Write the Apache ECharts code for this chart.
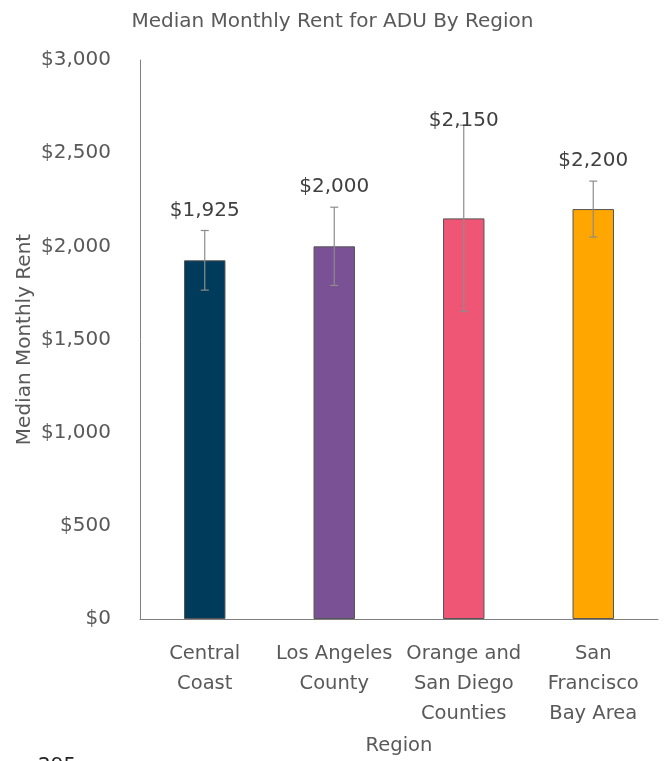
<!DOCTYPE html>
<html><head><meta charset="utf-8">
<script src="https://cdn.jsdelivr.net/npm/echarts@6/dist/echarts.min.js"></script>
<style>html,body{margin:0;padding:0;background:#fff}#c{width:665px;height:761px}</style>
</head><body><div id="c"></div>
<script>
const categories = ["Central\nCoast", "Los Angeles\nCounty", "Orange and\nSan Diego\nCounties", "San\nFrancisco\nBay Area"];
const rents = [1925, 2000, 2150, 2200];
const errors = [160, 210, 500, 150];
const colors = ["#003B5C", "#7A5195", "#EF5675", "#FFA600"];
const yTicks = [0, 500, 1000, 1500, 2000, 2500, 3000];

const FONT = "'DejaVu Sans', sans-serif";
const fmt = v => "$" + v.toLocaleString("en-US");

const chart = echarts.init(document.getElementById("c"));
chart.setOption({
  animation: false,
  title: {
    text: "Median Monthly Rent for ADU By Region",
    left: "center", top: 7,
    textStyle: { fontFamily: FONT, fontSize: 20, fontWeight: "normal", color: "#595959" }
  },
  grid: { left: 140, right: 7, top: 60, bottom: 139 },
  xAxis: {
    type: "category", data: categories,
    name: "Region", nameLocation: "middle", nameGap: 117,
    nameTextStyle: { fontFamily: FONT, fontSize: 19.5, color: "#595959" },
    axisLine: { lineStyle: { color: "#808080" } },
    axisTick: { show: false },
    axisLabel: { fontFamily: FONT, fontSize: 19.5, color: "#595959", lineHeight: 30, margin: 20, interval: 0 }
  },
  yAxis: {
    type: "value", min: 0, max: 3000, interval: 500,
    name: "Median Monthly Rent", nameLocation: "middle", nameGap: 105,
    nameMoveOverlap: false,
    nameTextStyle: { fontFamily: FONT, fontSize: 20, color: "#595959" },
    axisLine: { show: true, lineStyle: { color: "#808080" } },
    axisTick: { show: false },
    splitLine: { show: false },
    axisLabel: { fontFamily: FONT, fontSize: 20, color: "#595959", margin: 29,
      formatter: v => yTicks.includes(v) ? fmt(v) : "" }
  },
  series: [
    {
      type: "bar", barWidth: "32%",
      data: rents.map((v, i) => ({ value: v, itemStyle: { color: colors[i] } })),
      itemStyle: { borderColor: "#555", borderWidth: 1 }
    },
    {
      type: "custom",
      data: rents.map((v, i) => [i, v, errors[i]]),
      z: 10,
      renderItem: function (params, api) {
        const i = api.value(0), v = api.value(1), e = api.value(2);
        const top = api.coord([i, v + e]);
        const bot = api.coord([i, v - e]);
        const x = top[0];
        const cap = 4;
        const ls = { stroke: "#8c8c8c", lineWidth: 1.2 };
        const labelY = Math.max(top[1] - 20, 121);
        return {
          type: "group",
          children: [
            { type: "line", shape: { x1: x, y1: top[1], x2: x, y2: bot[1] }, style: ls },
            { type: "line", shape: { x1: x - cap, y1: top[1], x2: x + cap, y2: top[1] }, style: ls },
            { type: "line", shape: { x1: x - cap, y1: bot[1], x2: x + cap, y2: bot[1] }, style: ls },
            { type: "text", x: x, y: labelY, style: { text: fmt(v), fontFamily: FONT, fontSize: 20,
              fill: "#404040", align: "center", verticalAlign: "middle" } }
          ]
        };
      }
    }
  ],
  graphic: [
    { type: "text", left: 38, top: 756, style: { text: "295", fontFamily: FONT, fontSize: 20, fill: "#222" } }
  ]
});
</script>
</body></html>
